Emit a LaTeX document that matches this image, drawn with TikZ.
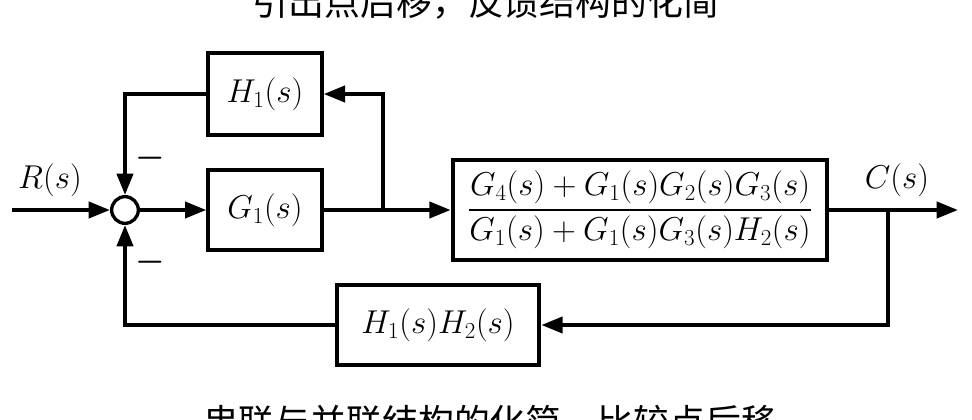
\documentclass[tikz,border=0pt]{standalone}
\usepackage{amsmath}
\usepackage{fontspec}
\newfontfamily\cjk{Noto Sans CJK SC}
\usetikzlibrary{arrows.meta}
\begin{document}
\begin{tikzpicture}[x=0.75bp,y=-0.75bp,
  line width=3bp,
  blk/.style={draw,line width=3bp,inner sep=0pt},
  arr/.style={-{Triangle[length=16bp,width=12bp]}},
  lbl/.style={font=\fontsize{24}{28}\selectfont},
  captxt/.style={font=\cjk\fontsize{27}{30}\selectfont}]
\useasboundingbox (0,0) rectangle (972,420);
\clip (0,0) rectangle (972,420);
\node[captxt] (t1) at (486,2) {引出点后移，反馈结构的化简};
\node[captxt] (t2) at (490,422) {串联与并联结构的化简，比较点后移};
\node[draw,circle,line width=2.5bp,minimum size=20bp,inner sep=0pt] (s) at (125,210) {};
\node[blk,minimum width=85bp,minimum height=60bp,lbl] (g1) at (265,210) {$G_1(s)$};
\node[blk,minimum width=85bp,minimum height=62bp,lbl] (h1) at (265,94) {$H_1(s)$};
\node[blk,minimum width=281bp,minimum height=75bp,font=\fontsize{24}{28}\selectfont] (g) at (640,210)
  {$\dfrac{G_4(s)+G_1(s)G_2(s)G_3(s)}{G_1(s)+G_1(s)G_3(s)H_2(s)}$};
\node[blk,minimum width=152bp,minimum height=60bp,lbl] (hh) at (438,325) {$H_1(s)H_2(s)$};
\coordinate (in) at (12,210);
\coordinate (b1) at (383,210);
\coordinate (b2) at (888,210);
\coordinate (out) at (958,210);
\node[lbl] (r) at (50,180) {$R(s)$};
\node[lbl] (c) at (897,180) {$C(s)$};
\node[lbl,font=\fontsize{30}{30}\selectfont\bfseries] (m1) at (150,158) {$\boldsymbol{-}$};
\node[lbl,font=\fontsize{30}{30}\selectfont\bfseries] (m2) at (150,262) {$\boldsymbol{-}$};
\draw[arr] (in) -- (s);
\draw[arr] (s) -- (g1);
\draw (g1) -- (b1);
\draw[arr] (b1) -- (g);
\draw[arr] (g) -- (out);
\draw[arr] (b1) |- (h1);
\draw[arr] (h1) -| (s);
\draw[arr] (b2) |- (hh);
\draw[arr] (hh) -| (s);
\end{tikzpicture}
\end{document}
